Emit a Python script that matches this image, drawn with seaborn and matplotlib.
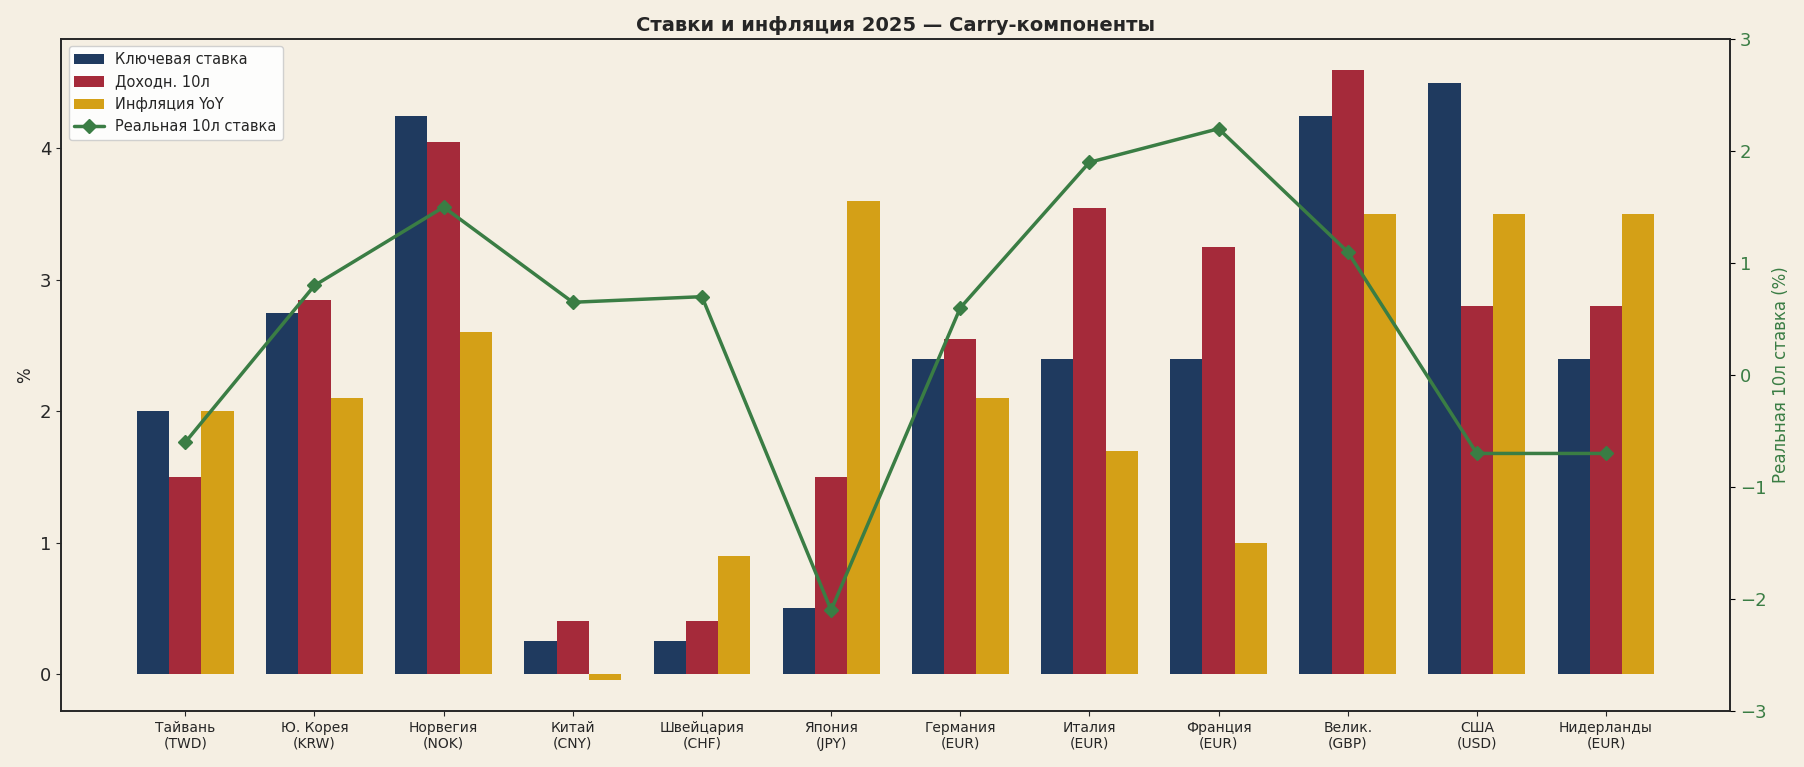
import numpy as np
import pandas as pd
import matplotlib
matplotlib.use("Agg")
import matplotlib.pyplot as plt
import seaborn as sns

countries = ["Тайвань\n(TWD)", "Ю. Корея\n(KRW)", "Норвегия\n(NOK)", "Китай\n(CNY)",
             "Швейцария\n(CHF)", "Япония\n(JPY)", "Германия\n(EUR)", "Италия\n(EUR)",
             "Франция\n(EUR)", "Велик.\n(GBP)", "США\n(USD)", "Нидерланды\n(EUR)"]
key_rate = [2.0, 2.75, 4.25, 0.25, 0.25, 0.5, 2.4, 2.4, 2.4, 4.25, 4.5, 2.4]
yield_10y = [1.5, 2.85, 4.05, 0.4, 0.4, 1.5, 2.55, 3.55, 3.25, 4.6, 2.8, 2.8]
inflation = [2.0, 2.1, 2.6, -0.05, 0.9, 3.6, 2.1, 1.7, 1.0, 3.5, 3.5, 3.5]
real_10y = [-0.6, 0.8, 1.5, 0.65, 0.7, -2.1, 0.6, 1.9, 2.2, 1.1, -0.7, -0.7]

series = ["Ключевая ставка", "Доходн. 10л", "Инфляция YoY"]
colors = ["#1f3a5f", "#a52a3a", "#d4a017"]
green = "#3a7d44"
bg = "#f5efe3"

df = pd.DataFrame({"country": countries * 3,
                   "value": key_rate + yield_10y + inflation,
                   "series": np.repeat(series, len(countries))})

sns.set_style("ticks")
plt.rcParams["font.family"] = ["DejaVu Sans"]

fig, ax = plt.subplots(figsize=(18.04, 7.67), dpi=100)
fig.patch.set_facecolor(bg)
ax.set_facecolor(bg)
fig.subplots_adjust(left=0.034, right=0.959, top=0.949, bottom=0.073)

# grouped bars, no edges
sns.barplot(data=df, x="country", y="value", hue="series", palette=colors,
            width=0.75, gap=0, saturation=1, ax=ax, errorbar=None, linewidth=0)
ax.set_xlim(-0.96, 11.96)
ax.set_xlabel("")
ax.set_ylabel("%", fontsize=12)
ax.tick_params(axis="x", labelsize=10)
ax.tick_params(axis="y", labelsize=13)
ax.set_title("Ставки и инфляция 2025 — Carry-компоненты", fontsize=14, fontweight="bold")

ax2 = ax.twinx()
ax2.plot(range(len(countries)), real_10y, color=green, marker="D", markersize=7,
         linewidth=2.5, label="Реальная 10л ставка")
ax2.set_ylim(-3, 3)
ax2.set_ylabel("Реальная 10л ставка (%)", color=green, fontsize=12)
ax2.tick_params(axis="y", colors=green, labelsize=13)
ax2.tick_params(axis="y", color="black")

h1, l1 = ax.get_legend_handles_labels()
h2, l2 = ax2.get_legend_handles_labels()
ax.legend(h1 + h2, l1 + l2, loc="upper left", fontsize=10.5, facecolor="white",
          framealpha=0.9, title=None)

for a in (ax, ax2):
    for s in a.spines.values():
        s.set_linewidth(1.2)

fig.savefig("out.png", dpi=100, facecolor=bg)
